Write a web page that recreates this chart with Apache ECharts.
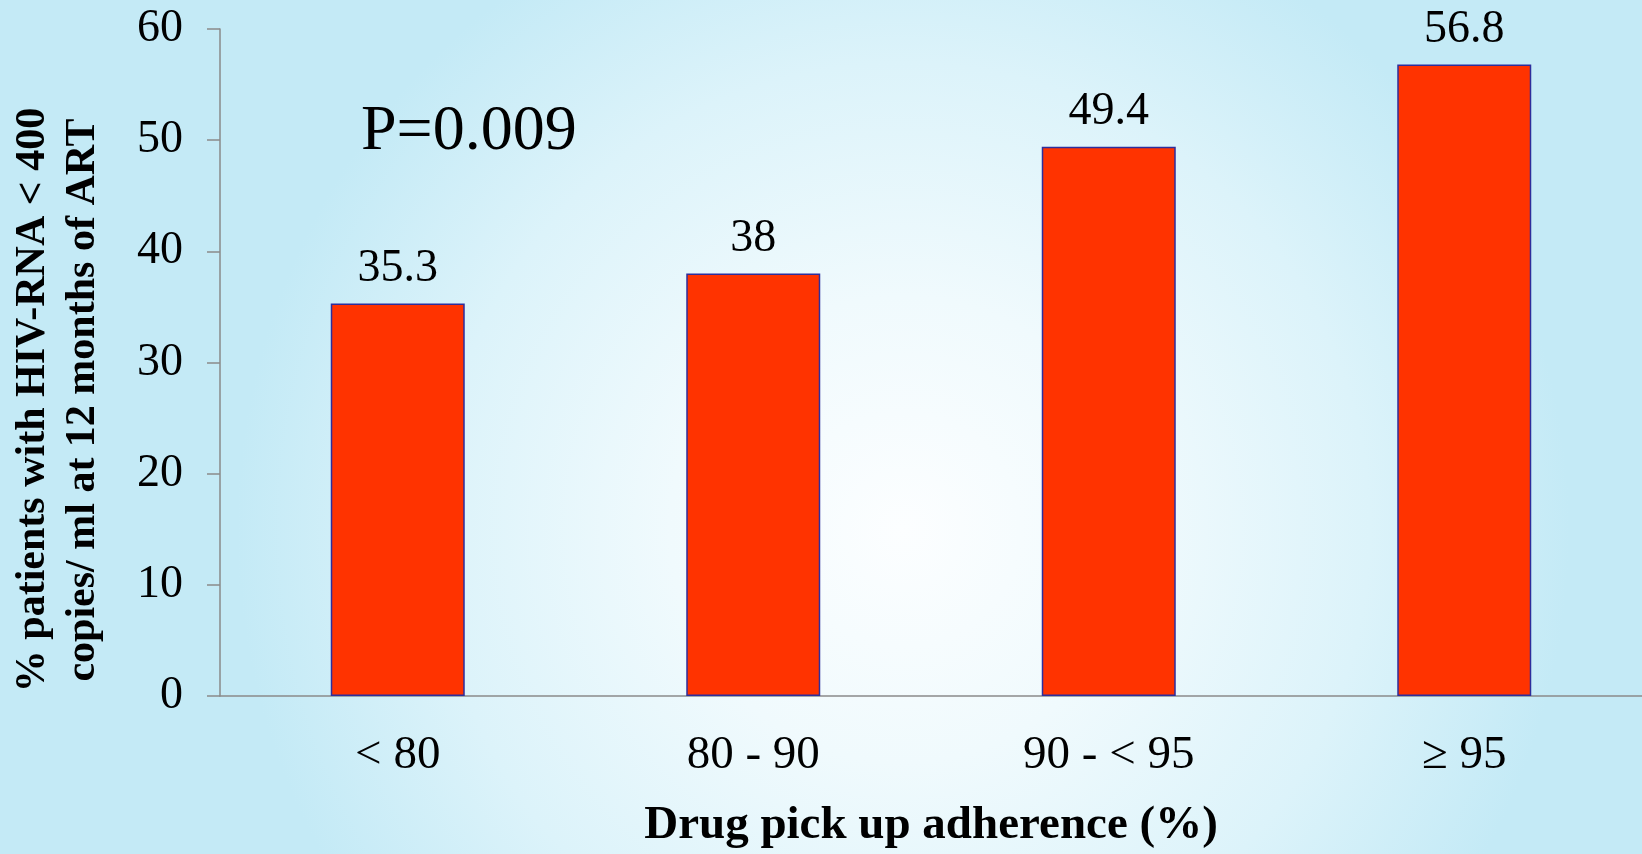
<!DOCTYPE html>
<html>
<head>
<meta charset="utf-8">
<script src="https://cdn.jsdelivr.net/npm/echarts@6/dist/echarts.min.js"></script>
<style>
  html, body { margin: 0; padding: 0; }
  #chart { width: 1642px; height: 854px; }
</style>
</head>
<body>
<div id="chart"></div>
<script>
// Adherence groups and share of patients with suppressed viral load
const categories = ['< 80', '80 - 90', '90 - < 95', '\u2265 95'];
const suppressed = [35.3, 38, 49.4, 56.8];
const yTicks = { min: 0, max: 60, interval: 10 };
const pValueText = 'P=0.009';
const yName = '% patients with HIV-RNA < 400\ncopies/ ml at 12 months of ART';
const xName = 'Drug pick up adherence (%)';

const serif = '"Liberation Serif", "Times New Roman", Times, serif';
const axisGray = '#8a8a8a';

const chart = echarts.init(document.getElementById('chart'));

chart.setOption({
  animation: false,
  graphic: [
    {
      type: 'rect',
      z: -100,
      silent: true,
      shape: { x: 0, y: 0, width: 1642, height: 854 },
      style: {
        fill: {
          type: 'radial', x: 0.55, y: 0.62, r: 0.78,
          colorStops: [
            { offset: 0, color: '#fcfeff' },
            { offset: 0.35, color: '#f0fafd' },
            { offset: 0.7, color: '#dcf3fa' },
            { offset: 1, color: '#c4eaf6' }
          ]
        }
      }
    },
    {
      // p-value annotation
      type: 'text',
      left: 361,
      top: 100,
      silent: true,
      style: {
        text: pValueText,
        font: '64px ' + serif,
        fill: '#000'
      }
    },
    {
      // rotated two-line y-axis title
      type: 'text',
      x: 58,
      y: 400,
      rotation: Math.PI / 2,
      silent: true,
      style: {
        text: yName,
        font: 'bold 42px ' + serif,
        lineHeight: 50,
        align: 'center',
        verticalAlign: 'middle',
        fill: '#000'
      }
    }
  ],
  grid: { left: 220, right: 0, top: 29, bottom: 150, containLabel: false },
  xAxis: {
    type: 'category',
    data: categories,
    axisLine: { show: true, lineStyle: { color: axisGray, width: 1.5 } },
    axisTick: { show: false },
    axisLabel: { margin: 36, color: '#000', fontFamily: serif, fontSize: 47 },
    name: xName,
    nameLocation: 'middle',
    nameGap: 106,
    nameTextStyle: { color: '#000', fontFamily: serif, fontSize: 47, fontWeight: 'bold' }
  },
  yAxis: {
    type: 'value',
    min: yTicks.min,
    max: yTicks.max,
    interval: yTicks.interval,
    axisLine: { show: true, lineStyle: { color: axisGray, width: 1.5 } },
    axisTick: { show: true, length: 13, lineStyle: { color: axisGray, width: 1.5 } },
    splitLine: { show: false },
    axisLabel: { margin: 37, color: '#000', fontFamily: serif, fontSize: 46 }
  },
  series: [{
    type: 'bar',
    data: suppressed,
    barWidth: 134,
    itemStyle: { color: '#ff3300', borderColor: '#2e2e9c', borderWidth: 1.5 },
    label: {
      show: true,
      position: 'top',
      distance: 12,
      color: '#000',
      fontFamily: serif,
      fontSize: 46
    }
  }]
});
</script>
</body>
</html>
